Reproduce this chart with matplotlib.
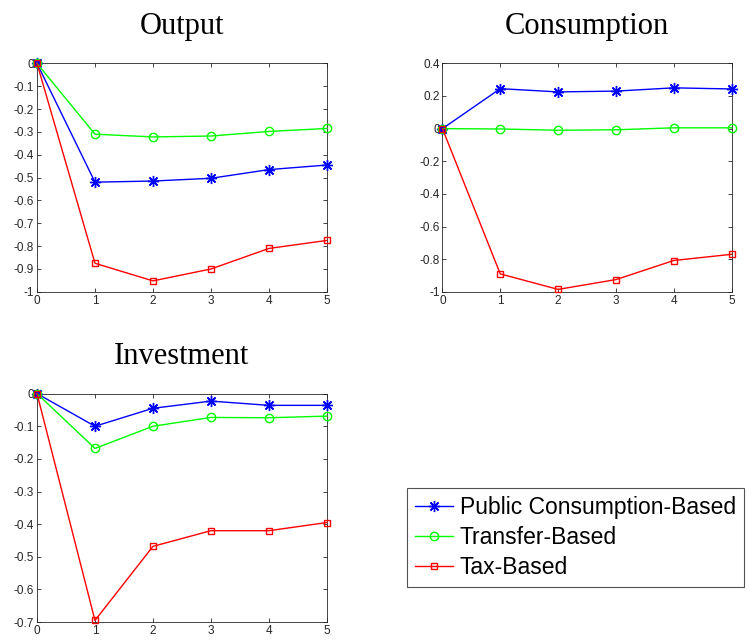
import numpy as np
import matplotlib
matplotlib.use("Agg")
import matplotlib.pyplot as plt

plt.rcParams["axes.unicode_minus"] = False
plt.rcParams["font.family"] = ["Liberation Sans", "DejaVu Sans"]

periods = [0, 1, 2, 3, 4, 5]
series_names = ["Public Consumption-Based", "Transfer-Based", "Tax-Based"]

output_public = [0, -0.520, -0.515, -0.503, -0.465, -0.445]
output_transfer = [0, -0.310, -0.322, -0.318, -0.298, -0.285]
output_tax = [0, -0.875, -0.952, -0.900, -0.810, -0.775]

cons_public = [0, 0.245, 0.225, 0.230, 0.250, 0.243]
cons_transfer = [0, -0.002, -0.010, -0.007, 0.005, 0.005]
cons_tax = [0, -0.890, -0.985, -0.925, -0.808, -0.770]

inv_public = [0, -0.100, -0.045, -0.023, -0.036, -0.036]
inv_transfer = [0, -0.168, -0.100, -0.073, -0.074, -0.069]
inv_tax = [0, -0.695, -0.468, -0.420, -0.420, -0.395]

output_yticks = [-1, -0.9, -0.8, -0.7, -0.6, -0.5, -0.4, -0.3, -0.2, -0.1, 0]
cons_yticks = [-1, -0.8, -0.6, -0.4, -0.2, 0, 0.2, 0.4]
inv_yticks = [-0.7, -0.6, -0.5, -0.4, -0.3, -0.2, -0.1, 0]

# matlab-like asterisk, open circle, open square
styles = [
    dict(color=(0, 0, 1), marker=(8, 2, 0), ms=8, mew=1.0),
    dict(color=(0, 1, 0), marker="o", ms=6, mfc="none", mew=1.0),
    dict(color=(1, 0, 0), marker="s", ms=5, mfc="none", mew=1.0),
]

panels = [
    ("Output", [output_public, output_transfer, output_tax], output_yticks,
     [0.049, 0.544, 0.384, 0.357]),
    ("Consumption", [cons_public, cons_transfer, cons_tax], cons_yticks,
     [0.586, 0.544, 0.383, 0.357]),
    ("Investment", [inv_public, inv_transfer, inv_tax], inv_yticks,
     [0.049, 0.028, 0.384, 0.357]),
]

fig = plt.figure(figsize=(7.55, 6.4), dpi=100)
axis_grey = "#262626"

handles = []
for title, data, yticks, rect in panels:
    ax = fig.add_axes(rect)
    lines = []
    for vals, st in zip(data, styles):
        ln, = ax.plot(periods, vals, lw=1.0, clip_on=False, zorder=3, **st)
        lines.append(ln)
    handles = lines
    ax.set_xlim(0, 5)
    ax.set_ylim(min(yticks), max(yticks))
    ax.set_xticks(periods)
    ax.set_yticks(yticks)
    ax.set_yticklabels(["%g" % t for t in yticks])
    ax.tick_params(direction="in", top=True, right=True, length=3, width=0.6,
                   labelsize=8.5, pad=2, colors=axis_grey)
    for sp in ax.spines.values():
        sp.set_color(axis_grey)
        sp.set_linewidth(0.6)
    ax.set_title(title, family=["Liberation Serif", "DejaVu Serif"], fontsize=22, pad=21)

leg = fig.legend(handles, series_names, loc="upper left",
                 bbox_to_anchor=(407 / 755, 1 - 488 / 640), borderaxespad=0,
                 fontsize=16.5, frameon=True, fancybox=False, handlelength=1.65,
                 handletextpad=0.3, borderpad=0.35, labelspacing=0.3)
leg.get_frame().set_edgecolor("#262626")
leg.get_frame().set_linewidth(0.8)

fig.savefig("out.png", dpi=100)
